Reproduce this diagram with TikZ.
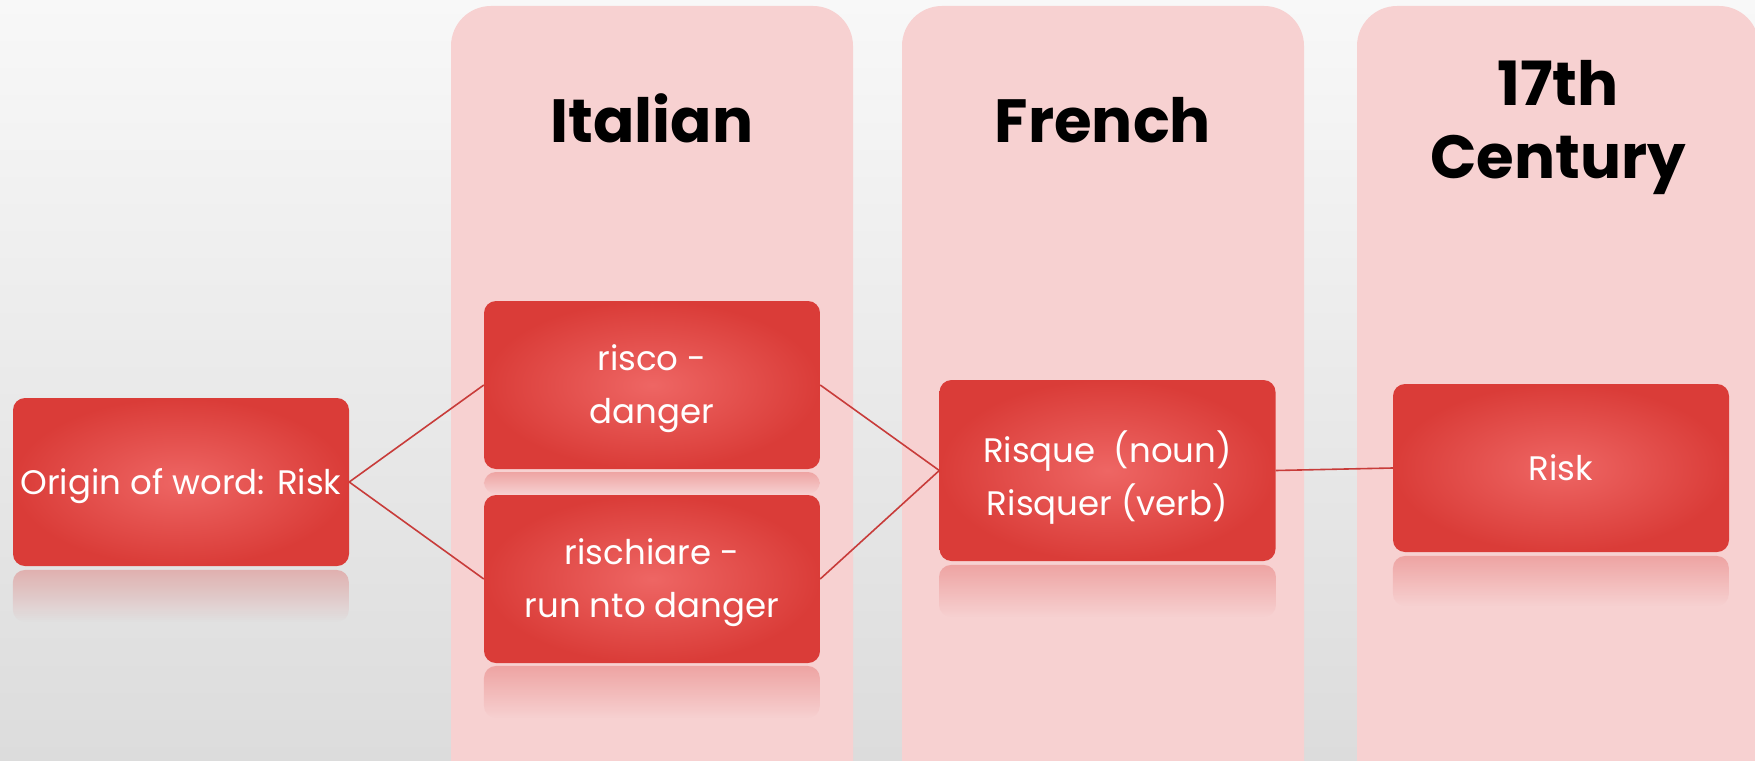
\documentclass[tikz,border=0pt]{standalone}
\usepackage{fontspec}
\setmainfont{Poppins}
\usetikzlibrary{fadings}

\definecolor{bgtop}{RGB}{248,248,248}
\definecolor{bgbot}{RGB}{220,220,220}
\definecolor{colpink}{RGB}{247,209,209}
\definecolor{boxred}{RGB}{218,60,56}
\definecolor{boxlight}{RGB}{238,102,100}
\definecolor{linkred}{RGB}{200,60,58}

\tikzset{
  column/.style={fill=colpink, rounded corners=40pt},
  heading/.style={font=\fontsize{61}{73}\selectfont\bfseries, align=center, inner sep=0pt},
  wordbox/.style={rectangle, rounded corners=12pt, inner color=boxlight, outer color=boxred,
    minimum width=336pt, minimum height=168pt, text=white, align=center,
    font=\fontsize{34}{53}\selectfont, text height=36pt, text depth=12pt},
  twolines/.style={text height=89pt},
  mirror/.style={fill=boxred, opacity=0.3, path fading=south, rounded corners=12pt},
  link/.style={draw=linkred, line width=1.6pt},
}

\begin{document}
\begin{tikzpicture}[x=1pt,y=-1pt]
  \shade[top color=bgtop, bottom color=bgbot] (0,0) rectangle (1755,760);
  \useasboundingbox (0,0) rectangle (1755,760);
  \clip (0,0) rectangle (1755,760);

  % columns
  \fill[column] (451,6) rectangle (853,820);
  \fill[column] (902,6) rectangle (1304,820);
  \fill[column] (1357,6) rectangle (1759,820);

  \node[heading, anchor=base] (italian) at (652,142) {Italian};
  \node[heading, anchor=base] (french) at (1103,142) {French};
  \node[heading, anchor=base] (century) at (1558,178) {17th\\Century};

  % reflections
  \fill[mirror] (13,570) rectangle (349,622);
  \fill[mirror] (484,472) rectangle (820,494);
  \fill[mirror] (484,666) rectangle (820,718);
  \fill[mirror] (939,565) rectangle (1276,617);
  \fill[mirror] (1393,556) rectangle (1729,606);

  \node[wordbox] (origin) at (181,482) {Origin of word: Risk};
  \node[wordbox, twolines] (risco) at (652,385) {risco -\\danger};
  \node[wordbox, twolines] (rischiare) at (652,579) {rischiare -\\run nto danger};
  \node[wordbox, twolines, text height=101pt, minimum height=181pt] (risque) at (1107.5,470.5) {Risque\ \ (noun)\\Risquer (verb)};
  \node[wordbox] (risk) at (1561,468) {Risk};

  \begin{scope}[link]
    \draw (origin.east) to (risco.west);
    \draw (origin.east) to (rischiare.west);
    \draw (risco.east) to (risque.west);
    \draw (rischiare.east) to (risque.west);
    \draw (risque.east) to (risk.west);
  \end{scope}
\end{tikzpicture}
\end{document}
